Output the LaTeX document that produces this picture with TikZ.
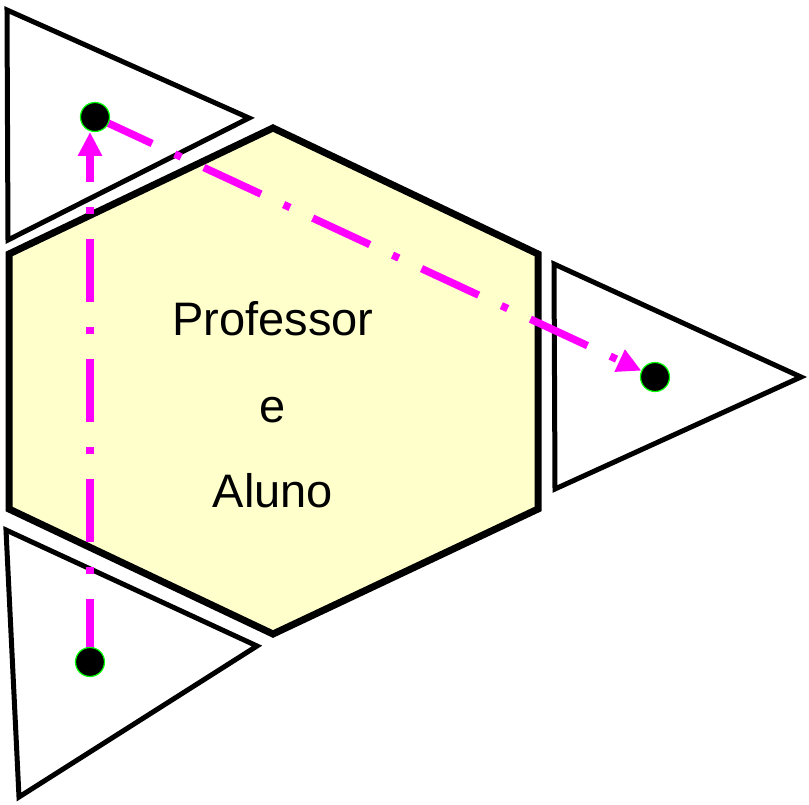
\documentclass[tikz,border=0pt]{standalone}
\usepackage{fontspec}
\setmainfont{Liberation Sans}
\usetikzlibrary{arrows.meta}
\definecolor{hexfill}{RGB}{255,255,204}
\definecolor{dotring}{RGB}{0,255,0}
\definecolor{flowpink}{RGB}{255,0,255}

\begin{document}
\begin{tikzpicture}[x=1pt, y=-1pt,
    hexline/.style={line width=7pt, line join=miter, fill=hexfill},
    triline/.style={line width=5pt, line join=miter},
    flow/.style={flowpink, line width=7.5pt,
        dash pattern=on 63pt off 25pt on 7pt off 25pt,
        -{Triangle[length=24pt, width=23pt]}, shorten >=15pt},
    spot/.style={circle, fill=black, draw=dotring, line width=1.2pt,
        minimum size=29pt, inner sep=0pt},
    word/.style={anchor=base, font=\fontsize{47}{55}\selectfont}]
    \useasboundingbox (0,0) rectangle (809,805);

    \draw [hexline]
        (273,128) -- (538,254) -- (538,509) -- (273,634)
        -- (9,509) -- (9,254) -- cycle
        ;

    \draw [triline] (7,10) -- (249,118) -- (8,240) -- cycle;
    \draw [triline] (554,264) -- (801,377) -- (555,489) -- cycle;
    \draw [triline] (6,530) -- (257,646) -- (19,797) -- cycle;

    \node [word] (prof) at (273,335) {Professor};
    \node [word] (conj) at (273,422) {e};
    \node [word] (aluno) at (273,507) {Aluno};

    \coordinate (topleft) at (95,117);
    \coordinate (right) at (655,377);
    \coordinate (botleft) at (90,662);

    \draw [flow] (botleft) -- (botleft |- topleft);
    \draw [flow] (topleft) -- (right);

    \node [spot] (topdot) at (topleft) {};
    \node [spot] (rightdot) at (right) {};
    \node [spot] (botdot) at (botleft) {};
\end{tikzpicture}
\end{document}
